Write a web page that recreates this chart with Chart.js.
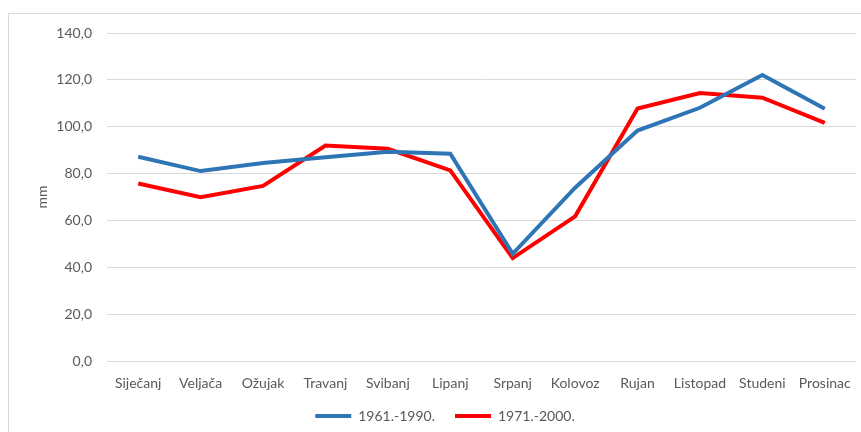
<!DOCTYPE html>
<html>
<head>
<meta charset="utf-8">
<script src="https://cdn.jsdelivr.net/npm/chart.js@4.4.0/dist/chart.umd.min.js"></script>
<style>
  html, body { margin: 0; padding: 0; background: #fff; overflow: hidden; }
  .frame { position: absolute; left: 8px; top: 13px; width: 900px; height: 500px; border: 1px solid #d9d9d9; }
  .wrap { position: absolute; left: 0; top: 0; width: 861px; height: 450px; }
</style>
</head>
<body>
<div class="frame"></div>
<div class="wrap"><canvas id="chart"></canvas></div>
<script>
// mjeseci
const months = ['Siječanj', 'Veljača', 'Ožujak', 'Travanj', 'Svibanj', 'Lipanj',
  'Srpanj', 'Kolovoz', 'Rujan', 'Listopad', 'Studeni', 'Prosinac'];

// oborina (mm) po razdobljima
const period1 = [87.2, 81.1, 84.5, 87.0, 89.3, 88.5, 45.8, 74.0, 98.4, 108.1, 122.1, 107.7];
const period2 = [75.8, 70.0, 74.8, 92.0, 90.6, 81.4, 44.0, 61.8, 107.8, 114.4, 112.4, 101.7];

const seriesNames = ['1961.-1990.', '1971.-2000.'];

const yTicks = [0, 20, 40, 60, 80, 100, 120, 140];

const ctx = document.getElementById('chart').getContext('2d');
const font = { family: 'Lato', size: 14 };

new Chart(ctx, {
  type: 'line',
  data: {
    labels: months,
    datasets: [{
      label: seriesNames[0],
      data: period1,
      borderColor: '#2e75b6',
      backgroundColor: '#2e75b6',
      borderWidth: 4,
      pointRadius: 0,
      tension: 0
    }, {
      label: seriesNames[1],
      data: period2,
      borderColor: '#ff0000',
      backgroundColor: '#ff0000',
      borderWidth: 4,
      pointRadius: 0,
      tension: 0
    }]
  },
  options: {
    responsive: true,
    maintainAspectRatio: false,
    animation: false,
    layout: { padding: { left: 34, right: 5, top: 33, bottom: 17 } },
    scales: {
      x: {
        offset: true,
        grid: { display: false },
        border: { display: false },
        afterFit: axis => {
          axis.height -= 9;
          axis._computeLabelArea = () => undefined; // ne rezati oznake
        },
        ticks: { color: '#595959', font: font, padding: 6, maxRotation: 0, autoSkip: false }
      },
      y: {
        min: 0,
        max: 140,
        afterBuildTicks: axis => { axis.ticks = yTicks.map(v => ({ value: v })); },
        afterFit: axis => { axis.width = 73; },
        grid: { color: '#d9d9d9', drawTicks: false },
        border: { display: false },
        ticks: {
          color: '#595959',
          font: font,
          padding: 15,
          callback: v => v.toFixed(1).replace('.', ',')
        },
        title: { display: true, text: 'mm', color: '#595959', font: font, padding: 0 }
      }
    },
    plugins: {
      legend: {
        position: 'bottom',
        labels: {
          color: '#595959',
          font: font,
          usePointStyle: true,
          pointStyle: 'line',
          pointStyleWidth: 36,
          padding: 20
        }
      },
      tooltip: { enabled: false }
    }
  }
});
</script>
</body>
</html>
